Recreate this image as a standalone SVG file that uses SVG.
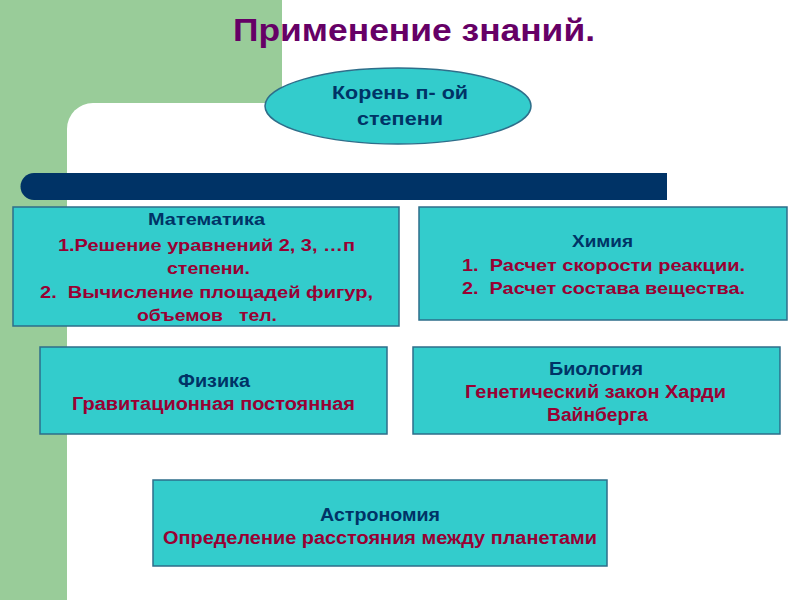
<svg xmlns="http://www.w3.org/2000/svg" width="800" height="600" viewBox="0 0 800 600">
<style>
.box{fill:#33CCCC;stroke:#2E6E8A;stroke-width:1.5}
text{font-family:"Liberation Sans",Arial,sans-serif;font-weight:bold}
.h{font-size:16px;fill:#003366}
.b{font-size:17px;fill:#990033}
.h2{font-size:18px;fill:#003366}
.b2{font-size:18px;fill:#990033}
</style>
<rect x="0" y="0" width="800" height="600" fill="#FFFFFF"/>
<rect x="0" y="0" width="282" height="600" fill="#99CC99"/>
<rect x="67" y="103" width="800" height="560" rx="26" fill="#FFFFFF"/>
<text x="233" y="41" font-size="32" fill="#660066" textLength="362" lengthAdjust="spacingAndGlyphs">Применение знаний.</text>
<path d="M34 173 H667 V200 H34 A13.5 13.5 0 0 1 34 173 Z" fill="#003366"/>
<g id="root">
<ellipse cx="398" cy="106" rx="133" ry="38" class="box"/>
<text x="332" y="99" class="h2" textLength="136" lengthAdjust="spacingAndGlyphs">Корень п- ой</text>
<text x="357" y="125" class="h2" textLength="86" lengthAdjust="spacingAndGlyphs">степени</text>
</g>
<g id="connectors"></g>
<g id="math">
<rect x="13" y="207" width="386" height="119" class="box"/>
<text x="148" y="225" class="h" textLength="117" lengthAdjust="spacingAndGlyphs">Математика</text>
<text x="58" y="251" class="b" textLength="297" lengthAdjust="spacingAndGlyphs">1.Решение уравнений 2, 3, …п</text>
<text x="167" y="274" class="b" textLength="83" lengthAdjust="spacingAndGlyphs">степени.</text>
<text x="40" y="298" class="b" xml:space="preserve" textLength="333" lengthAdjust="spacingAndGlyphs">2.  Вычисление площадей фигур,</text>
<text x="137" y="321" class="b" xml:space="preserve" textLength="140" lengthAdjust="spacingAndGlyphs">объемов   тел.</text>
</g>
<g id="chem">
<rect x="419" y="207" width="368" height="113" class="box"/>
<text x="572" y="247" class="h" textLength="61" lengthAdjust="spacingAndGlyphs">Химия</text>
<text x="462" y="271" class="b" xml:space="preserve" textLength="283" lengthAdjust="spacingAndGlyphs">1.  Расчет скорости реакции.</text>
<text x="462" y="294" class="b" xml:space="preserve" textLength="283" lengthAdjust="spacingAndGlyphs">2.  Расчет состава вещества.</text>
</g>
<g id="phys">
<rect x="40" y="347" width="347" height="87" class="box"/>
<text x="178" y="387" class="h2" textLength="72" lengthAdjust="spacingAndGlyphs">Физика</text>
<text x="72" y="410" class="b2" textLength="283" lengthAdjust="spacingAndGlyphs">Гравитационная постоянная</text>
</g>
<g id="bio">
<rect x="413" y="347" width="367" height="87" class="box"/>
<text x="549" y="375" class="h2" textLength="94" lengthAdjust="spacingAndGlyphs">Биология</text>
<text x="465" y="398" class="b2" textLength="261" lengthAdjust="spacingAndGlyphs">Генетический закон Харди</text>
<text x="547" y="421" class="b2" textLength="101" lengthAdjust="spacingAndGlyphs">Вайнберга</text>
</g>
<g id="astro">
<rect x="153" y="480" width="454" height="86" class="box"/>
<text x="320" y="521" class="h2" textLength="120" lengthAdjust="spacingAndGlyphs">Астрономия</text>
<text x="163" y="544" class="b2" textLength="434" lengthAdjust="spacingAndGlyphs">Определение расстояния между планетами</text>
</g>
</svg>
